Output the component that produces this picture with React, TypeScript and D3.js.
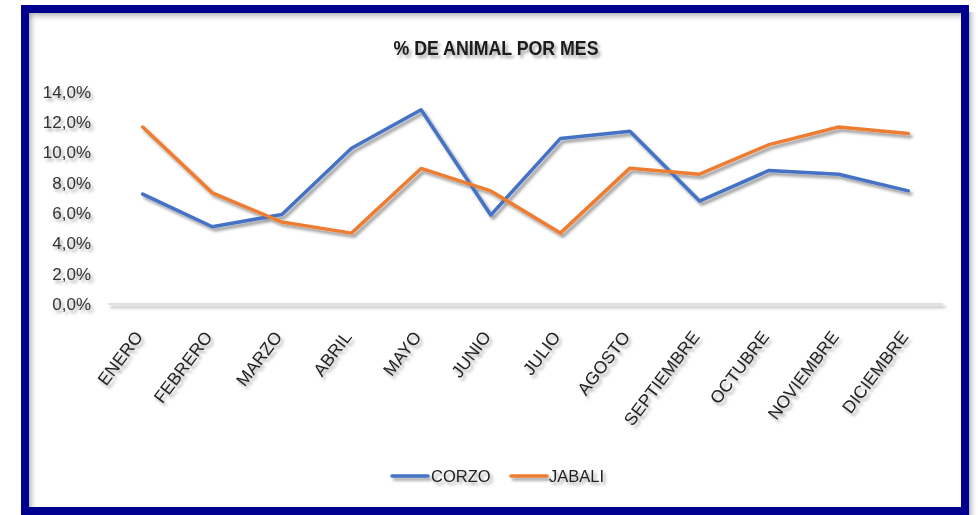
import React from "react";
import * as d3 from "d3";

const months = ["ENERO","FEBRERO","MARZO","ABRIL","MAYO","JUNIO","JULIO","AGOSTO","SEPTIEMBRE","OCTUBRE","NOVIEMBRE","DICIEMBRE"];
const corzo = [0.0724,0.0509,0.059,0.1026,0.128,0.0586,0.109,0.1138,0.0678,0.088,0.0855,0.0745];
const jabali = [0.1166,0.0732,0.054,0.0467,0.0893,0.0745,0.0467,0.0895,0.0855,0.105,0.1166,0.1123];
const yTicks = [0,0.02,0.04,0.06,0.08,0.1,0.12,0.14];
const seriesNames = ["CORZO","JABALI"];
const colors = ["#4472C4","#ED7D31"];

const W = 978, H = 515;

export default function App() {
  const x = d3.scalePoint<string>().domain(months).range([142.7, 908.3]);
  const y = d3.scaleLinear().domain([0, 0.14]).range([304, 91.5]);
  const line = d3.line<number>().x((_, i) => x(months[i])!).y(d => y(d));
  const fmt = (v: number) => (v * 100).toFixed(1).replace(".", ",") + "%";
  const series = [corzo, jabali];
  const font = "'Liberation Sans', Arial, sans-serif";
  return (
    <svg width={W} height={H} style={{ position: "absolute", left: 0, top: 0, background: "#fff" }}>
      <defs>
        <filter id="sh" filterUnits="userSpaceOnUse" x="0" y="0" width={W} height={H}>
          <feDropShadow dx="2.5" dy="3" stdDeviation="1.8" floodColor="#000" floodOpacity="0.4" />
        </filter>
        <filter id="tsh" filterUnits="userSpaceOnUse" x="0" y="0" width={W} height={H}>
          <feDropShadow dx="2.5" dy="3" stdDeviation="1.5" floodColor="#000" floodOpacity="0.35" />
        </filter>
        <linearGradient id="gTop" x1="0" y1="0" x2="0" y2="1">
          <stop offset="0" stopColor="#888" stopOpacity="0.6" />
          <stop offset="1" stopColor="#fff" stopOpacity="0" />
        </linearGradient>
        <linearGradient id="gLeft" x1="0" y1="0" x2="1" y2="0">
          <stop offset="0" stopColor="#888" stopOpacity="0.6" />
          <stop offset="1" stopColor="#fff" stopOpacity="0" />
        </linearGradient>
        <linearGradient id="gRight" x1="0" y1="0" x2="1" y2="0">
          <stop offset="0" stopColor="#999" stopOpacity="0.7" />
          <stop offset="1" stopColor="#fff" stopOpacity="0" />
        </linearGradient>
      </defs>
      <rect x={969} y={12} width={9} height={H} fill="url(#gRight)" />
      <rect x={29} y={13} width={932} height={10} fill="url(#gTop)" />
      <rect x={29} y={13} width={9} height={H} fill="url(#gLeft)" />
      <rect x={25} y={9} width={940} height={502} fill="none" stroke="#00008E" strokeWidth={8} />
      <rect x={21} y={511} width={948} height={4} fill="#00008E" />

      <text x={496} y={55} textAnchor="middle" textLength={205} lengthAdjust="spacingAndGlyphs" fontFamily={font} fontWeight="bold" fontSize={21} fill="#1a1a1a" filter="url(#tsh)">% DE ANIMAL POR MES</text>

      <g filter="url(#tsh)">
        {yTicks.map(t => (
          <text key={t} x={91} y={y(t) + 6} textAnchor="end" fontFamily={font} fontSize={17} fill="#333">{fmt(t)}</text>
        ))}
      </g>
      <rect x={108} y={y(0) - 0.75} width={835} height={1.5} fill="#D9D9D9" filter="url(#sh)" />

      <g filter="url(#tsh)">
        {months.map(m => (
          <text key={m} transform={`translate(${x(m)! + 1},${337}) rotate(-53)`} textAnchor="end" fontFamily={font} fontSize={17.5} fill="#222">{m}</text>
        ))}
      </g>

      <g filter="url(#sh)">
        {series.map((s, i) => (
          <path key={i} d={line(s)!} fill="none" stroke={colors[i]} strokeWidth={3.5} strokeLinecap="round" strokeLinejoin="round" />
        ))}
      </g>

      <g filter="url(#tsh)">
        <line x1={392} x2={428} y1={476} y2={476} stroke={colors[0]} strokeWidth={3.5} strokeLinecap="round" />
        <text x={431} y={482} fontFamily={font} fontSize={16.5} fill="#222">{seriesNames[0]}</text>
        <line x1={511} x2={547} y1={476} y2={476} stroke={colors[1]} strokeWidth={3.5} strokeLinecap="round" />
        <text x={549} y={482} fontFamily={font} fontSize={16.5} fill="#222">{seriesNames[1]}</text>
      </g>
    </svg>
  );
}
